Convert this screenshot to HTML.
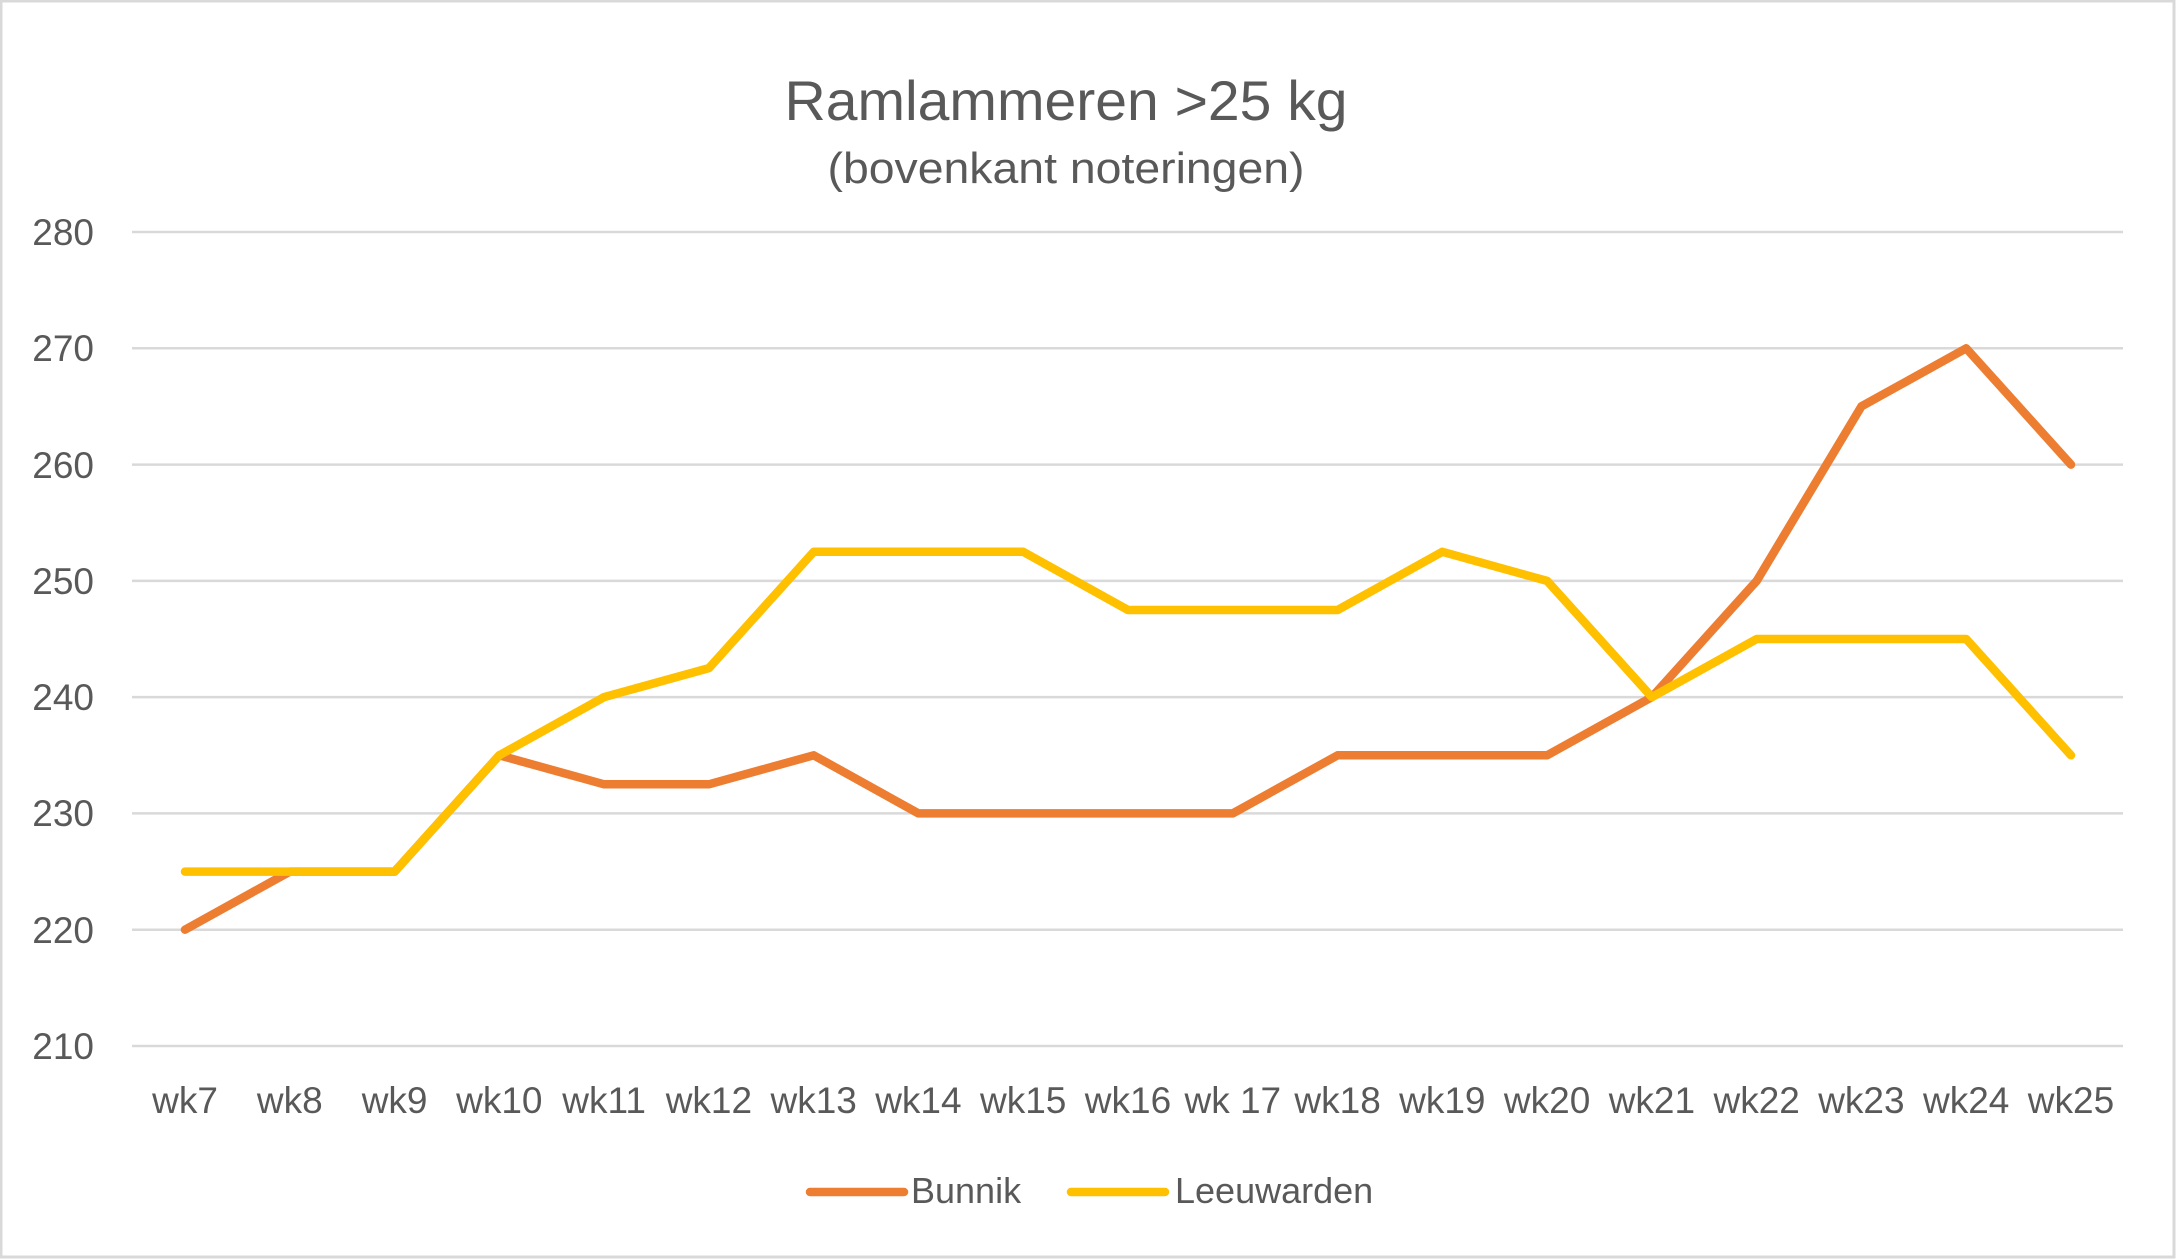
<!DOCTYPE html>
<html><head><meta charset="utf-8"><style>
html,body{margin:0;padding:0;background:#fff;}
svg{display:block;font-family:"Liberation Sans",sans-serif;}
</style></head><body>
<svg width="2176" height="1259" viewBox="0 0 2176 1259" xmlns="http://www.w3.org/2000/svg">
<rect x="1" y="1" width="2173" height="1256" fill="#fff" stroke="#d9d9d9" stroke-width="3"/>
<text x="1066" y="120" text-anchor="middle" font-size="56" fill="#595959" textLength="563" lengthAdjust="spacingAndGlyphs">Ramlammeren &gt;25 kg</text>
<text x="1066" y="183" text-anchor="middle" font-size="44" fill="#595959" textLength="477" lengthAdjust="spacingAndGlyphs">(bovenkant noteringen)</text>
<g stroke="#d9d9d9" stroke-width="2.5">
<line x1="132" x2="2123" y1="232" y2="232"/>
<line x1="132" x2="2123" y1="348.3" y2="348.3"/>
<line x1="132" x2="2123" y1="464.6" y2="464.6"/>
<line x1="132" x2="2123" y1="580.9" y2="580.9"/>
<line x1="132" x2="2123" y1="697.1" y2="697.1"/>
<line x1="132" x2="2123" y1="813.4" y2="813.4"/>
<line x1="132" x2="2123" y1="929.7" y2="929.7"/>
<line x1="132" x2="2123" y1="1046" y2="1046"/>
</g>
<g font-size="37" fill="#595959" text-anchor="end">
<text x="94" y="245">280</text>
<text x="94" y="361">270</text>
<text x="94" y="478">260</text>
<text x="94" y="594">250</text>
<text x="94" y="710">240</text>
<text x="94" y="826">230</text>
<text x="94" y="943">220</text>
<text x="94" y="1059">210</text>
</g>
<g font-size="37" fill="#595959" text-anchor="middle">
<text x="185" y="1113">wk7</text>
<text x="289.8" y="1113">wk8</text>
<text x="394.6" y="1113">wk9</text>
<text x="499.3" y="1113">wk10</text>
<text x="604.1" y="1113">wk11</text>
<text x="708.9" y="1113">wk12</text>
<text x="813.7" y="1113">wk13</text>
<text x="918.4" y="1113">wk14</text>
<text x="1023.2" y="1113">wk15</text>
<text x="1128" y="1113">wk16</text>
<text x="1232.8" y="1113">wk 17</text>
<text x="1337.6" y="1113">wk18</text>
<text x="1442.3" y="1113">wk19</text>
<text x="1547.1" y="1113">wk20</text>
<text x="1651.9" y="1113">wk21</text>
<text x="1756.7" y="1113">wk22</text>
<text x="1861.4" y="1113">wk23</text>
<text x="1966.2" y="1113">wk24</text>
<text x="2071" y="1113">wk25</text>
</g>
<polyline fill="none" stroke="#ED7D31" stroke-width="8.5" stroke-linejoin="round" stroke-linecap="round"
points="185,929.7 289.8,871.6 394.6,871.6 499.3,755.3 604.1,784.3 708.9,784.3 813.7,755.3 918.4,813.4 1023.2,813.4 1128,813.4 1232.8,813.4 1337.6,755.3 1442.3,755.3 1547.1,755.3 1651.9,697.1 1756.7,580.9 1861.4,406.4 1966.2,348.3 2071,464.6"/>
<polyline fill="none" stroke="#FFC000" stroke-width="8.5" stroke-linejoin="round" stroke-linecap="round"
points="185,871.6 289.8,871.6 394.6,871.6 499.3,755.3 604.1,697.1 708.9,668.1 813.7,551.8 918.4,551.8 1023.2,551.8 1128,610 1232.8,610 1337.6,610 1442.3,551.8 1547.1,580.9 1651.9,697.1 1756.7,639 1861.4,639 1966.2,639 2071,755.3"/>
<line x1="810" x2="904" y1="1192" y2="1192" stroke="#ED7D31" stroke-width="8.5" stroke-linecap="round"/>
<text x="911" y="1203" font-size="36" fill="#595959">Bunnik</text>
<line x1="1071" x2="1165" y1="1192" y2="1192" stroke="#FFC000" stroke-width="8.5" stroke-linecap="round"/>
<text x="1175" y="1203" font-size="36" fill="#595959">Leeuwarden</text>
</svg>
</body></html>
